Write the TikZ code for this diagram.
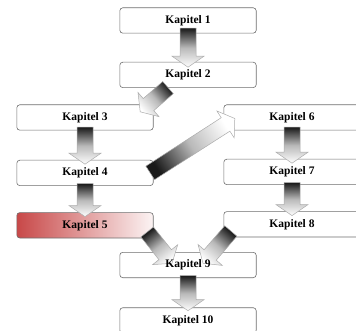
\documentclass[tikz,border=0pt]{standalone}
\usepackage{fontspec}
\setmainfont{Liberation Serif}
\usepackage{tikz}
\usetikzlibrary{calc, positioning}
\definecolor{kapred}{RGB}{200,72,72}
\definecolor{boxline}{RGB}{110,110,110}

\pgfdeclarelayer{boxes}
\pgfdeclarelayer{arrows}
\pgfsetlayers{boxes,arrows,main}

\tikzset{
  kaptext/.style={rectangle, minimum width=136pt, minimum height=25pt, inner sep=0pt,
    font=\fontsize{11.5}{13}\selectfont\bfseries},
  kapframe/.style={draw=boxline, line width=0.6pt, rounded corners=3pt, fill=white},
  arrowbody/.style={draw=gray!65, line width=0.5pt, top color=black!90, bottom color=white, middle color=gray!55}
}

% block arrow from tail #1 to tip #2
\def\shaftw{8pt}
\def\headw{16pt}
\def\headlen{11pt}
\newcommand{\blockarrow}[2]{%
  \path let \p1=(#1), \p2=(#2), \n1={atan2(\y2-\y1,\x2-\x1)+90} in \pgfextra{\xdef\arrowangle{\n1}};
  \shade[arrowbody, shading angle=\arrowangle]
    let \p1=(#1), \p2=(#2), \p3=($(\p2)!\headlen!(\p1)$) in
    ($(\p1)!\shaftw!90:(\p2)$) -- ($(\p3)!\shaftw!90:(\p2)$) -- ($(\p3)!\headw!90:(\p2)$) -- (\p2)
    -- ($(\p3)!\headw!-90:(\p2)$) -- ($(\p3)!\shaftw!-90:(\p2)$) -- ($(\p1)!\shaftw!-90:(\p2)$) -- cycle;
}

\begin{document}
\begin{tikzpicture}[x=1pt, y=1pt]
    \useasboundingbox (0,0) rectangle (356,-331);
    \clip (0,0) rectangle (356,-331);

    % middle column
    \node[kaptext] (k1) at (188,-20.5) {Kapitel 1};
    \node[kaptext, below=29pt of k1] (k2) {Kapitel 2};

    % left column
    \node[kaptext] (k3) at (85,-117.5) {Kapitel 3};
    \node[kaptext, below=30pt of k3] (k4) {Kapitel 4};
    \node[kaptext, below=27pt of k4] (k5) {Kapitel 5};

    % right column
    \node[kaptext] (k6) at (292,-117.5) {Kapitel 6};
    \node[kaptext, below=29pt of k6] (k7) {Kapitel 7};
    \node[kaptext, below=27pt of k7] (k8) {Kapitel 8};

    % bottom
    \node[kaptext] (k9) at (188,-265) {Kapitel 9};
    \node[kaptext, below=30pt of k9] (k10) {Kapitel 10};

    % Frames
    \begin{pgfonlayer}{boxes}
      \foreach \k in {k1,k2,k3,k4,k6,k7,k8,k9,k10}
        \draw[kapframe] (\k.south west) rectangle (\k.north east);
      \shade[kapframe, left color=kapred, right color=kapred!6] (k5.south west) rectangle (k5.north east);
    \end{pgfonlayer}

    % Arrows
    \begin{pgfonlayer}{arrows}
      \blockarrow{[yshift=5pt]k1.south}{[yshift=-5pt]k2.north}
      \blockarrow{[xshift=-20pt]k2.south}{[xshift=-13pt,yshift=-7pt]k3.north east}
      \blockarrow{[yshift=3pt]k3.south}{[yshift=-4pt]k4.north}
      \blockarrow{[yshift=2pt]k4.south}{[yshift=-4pt]k5.north}
      \blockarrow{[xshift=-3pt]k4.east}{[xshift=11pt,yshift=-1pt]k6.west}
      \blockarrow{[yshift=3pt]k6.south}{[yshift=-4pt]k7.north}
      \blockarrow{[yshift=2pt]k7.south}{[yshift=-4pt]k8.north}
      \blockarrow{[xshift=-6pt,yshift=6pt]k5.south east}{[xshift=-16pt,yshift=-11pt]k9.north}
      \blockarrow{[xshift=7pt,yshift=6pt]k8.south west}{[xshift=15pt,yshift=-11pt]k9.north}
      \blockarrow{[yshift=2pt]k9.south}{[yshift=-3pt]k10.north}
    \end{pgfonlayer}
\end{tikzpicture}
\end{document}
